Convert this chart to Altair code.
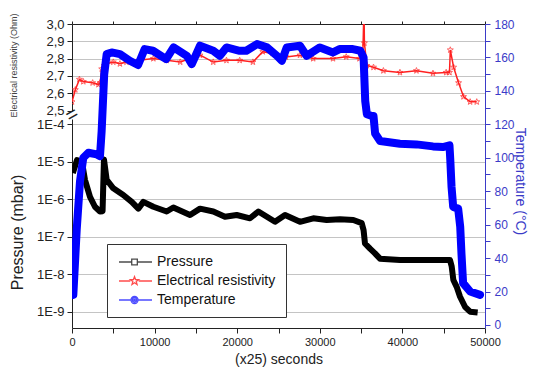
import math
import altair as alt
import pandas as pd

# ---------------- data ----------------
t_temp = [0, 160, 360, 570, 970, 1370, 1980, 3000, 3390, 3590, 3900, 4200, 4800, 5800, 7000,
          8000, 8800, 9800, 11400, 12300, 13900, 14500, 15500, 17100, 17900, 18700, 20300,
          21100, 22400, 23600, 24800, 25400, 26000, 27600, 28400, 30000, 31600, 32400, 34000,
          34900, 35300, 35500, 35700, 36300, 36500, 36700, 37300, 39700, 41700, 43700, 44900,
          45700, 45800, 45950, 46150, 46750, 47000, 47150, 47350, 48200, 49400]
temp = [18, 18, 37, 57, 86, 100, 103, 102, 101, 116, 150, 162, 163, 162, 158,
        155.5, 165, 164, 159, 166, 161, 156, 167, 164, 161, 166, 164,
        164, 168, 166, 161, 158, 166, 167, 161, 166, 163, 165, 165,
        164, 160, 134, 126, 125, 125, 114.5, 110, 108.4, 108, 106.8, 106.4,
        107.4, 98.5, 82.5, 70.6, 69.6, 58.7, 42.8, 25, 20, 18]

t_pres = [100, 400, 600, 1200, 1570, 2180, 2780, 3390, 3700, 3870, 4200, 5000, 6210, 7230,
          8030, 8640, 9850, 11460, 12270, 14290, 15500, 17110, 18520, 19940, 21550, 22560,
          24580, 25790, 27600, 29210, 30830, 32450, 34060, 35070, 35300, 35470, 36080, 36680,
          37290, 39710, 45760, 45970, 46170, 46570, 46980, 47580, 48190, 49110]
pres = [5e-6, 8e-6, 1.1e-5, 1.0e-5, 3.3e-6, 1.15e-6, 6.3e-7, 4.7e-7, 4.8e-7, 1.15e-5, 3.3e-6,
        1.95e-6, 1.3e-6, 8.5e-7, 5.6e-7, 8.5e-7, 6.3e-7, 4.7e-7, 6e-7, 3.8e-7, 5.6e-7, 4.7e-7,
        3.4e-7, 3.8e-7, 3.1e-7, 4.7e-7, 2.5e-7, 3.8e-7, 2.5e-7, 3.1e-7, 2.8e-7, 2.9e-7, 2.8e-7,
        2.3e-7, 1.5e-7, 6.6e-8, 4.8e-8, 3.6e-8, 2.6e-8, 2.4e-8, 2.4e-8, 1.6e-8, 7e-9, 4.6e-9,
        2.5e-9, 1.35e-9, 1.0e-9, 0.95e-9]

t_res = [0, 400, 900, 1370, 2500, 3200, 3400, 3600, 3900, 4200, 5000, 5800, 6600, 7000, 8100,
         9850, 11460, 13100, 15500, 17100, 18700, 20300, 21900, 23100, 24300, 25900, 27600,
         29200, 31600, 33200, 34800, 35200, 35350, 35400, 35700, 36500, 37700, 39700, 41700,
         43700, 45300, 45700, 45800, 46200, 46800, 47400, 48200, 49000]
res = [2.55, 2.62, 2.68, 2.667, 2.66, 2.65, 2.66, 2.74, 2.76, 2.77, 2.78, 2.77, 2.78, 2.79, 2.79,
       2.80, 2.79, 2.78, 2.82, 2.78, 2.79, 2.79, 2.78, 2.84, 2.83, 2.81, 2.82,
       2.80, 2.80, 2.81, 2.80, 2.80, 3.10, 2.89, 2.76, 2.75, 2.73, 2.72, 2.73,
       2.715, 2.72, 2.72, 2.85, 2.75, 2.66, 2.58, 2.55, 2.55]

series = ["Pressure", "Electrical resistivity", "Temperature"]
series_colors = ["#000000", "#ff0000", "#0000ff"]

x_ticks = list(range(0, 50001, 5000))
res_ticks = [2.5, 2.6, 2.7, 2.8, 2.9, 3.0]
pres_ticks = [1e-9, 1e-8, 1e-7, 1e-6, 1e-5, 1e-4]
temp_ticks = list(range(0, 181, 10))

# ---------------- styling ----------------
FONT = "Liberation Sans"
W, H = 413, 304
AX = "#222222"
BLUE_AX = "#3b3bc8"

df_temp = pd.DataFrame({"t": t_temp, "v": temp})
df_pres = pd.DataFrame({"t": t_pres, "v": pres})
df_res = pd.DataFrame({"t": t_res, "v": res})
df_leg = pd.DataFrame({"t": [0, 0, 0], "s": series})


def xs(**kw):
    return alt.X("t:Q", scale=alt.Scale(domain=[0, 50000], nice=False, zero=False), **kw)


# legend symbol paths (unit = half of sqrt(symbol size))
cx = 1.36


def star_path(c, ro, ri):
    pts = []
    for k in range(10):
        r = ro if k % 2 == 0 else ri
        a = -math.pi / 2 + k * math.pi / 5
        pts.append("%.3f,%.3f" % (c + r * math.cos(a), r * math.sin(a)))
    return "M" + "L".join(pts) + "Z"


def ring(c, r):
    return "M%.3f,0A%.3f,%.3f 0 1,0 %.3f,0A%.3f,%.3f 0 1,0 %.3f,0" % (c - r, r, r, c + r, r, r, c - r)


p_sq = "M-0.86,0H0.96M1.76,0H3.86M0.96,-0.4H1.76V0.4H0.96Z"
p_star = "M-0.86,0H0.76M1.96,0H3.86" + star_path(cx, 0.62, 0.26)
p_circ = "M-0.86,0H0.86M1.86,0H3.86" + ring(cx, 0.5) + ring(cx, 0.3) + ring(cx, 0.1)

# ---------------- layers ----------------
pres_layer = alt.Chart(df_pres).mark_line(color="#000000", strokeWidth=6, strokeJoin="round",
                                           clip=True).encode(
    x=xs(axis=alt.Axis(orient="bottom", values=x_ticks,
                       labelExpr="datum.value % 10000 == 0 ? format(datum.value, 'd') : ''",
                       title="(x25) seconds", titleFontSize=14, titleFontWeight="normal",
                       titlePadding=5, labelFontSize=11, tickSize=5, labelPadding=3,
                       labelFlush=False,
                       grid=False, domainColor=AX, tickColor=AX, labelColor=AX, titleColor=AX)),
    y=alt.Y("v:Q",
            scale=alt.Scale(type="log", domain=[3.67e-10, 1.38e-4], range=[304, 95], nice=False),
            axis=alt.Axis(orient="left", values=pres_ticks,
                          labelExpr="'1E' + round(log(datum.value) / LN10)",
                          title="Pressure (mbar)", titleFontSize=16, titleFontWeight="normal",
                          titleX=-47, titleY=208, titleAngle=270, titleBaseline="bottom",
                          labelFontSize=13, tickSize=5, labelPadding=3, labelFlush=False,
                          grid=True, gridColor="#c4c4c4", gridWidth=1,
                          domainColor=AX, tickColor=AX, labelColor=AX, titleColor=AX)),
)

res_line = alt.Chart(df_res).mark_line(color="#ff2020", strokeWidth=1.5, clip=True).encode(
    x=xs(axis=None),
    y=alt.Y("v:Q", scale=alt.Scale(domain=[2.5, 3.0], range=[86.5, 0], nice=False, zero=False),
            axis=alt.Axis(orient="left", values=res_ticks,
                          labelExpr="replace(format(datum.value, '.1f'), '.', ',')",
                          title="Electrical resistivity (Ohm)", titleFontSize=9,
                          titleFontWeight="normal", titleX=-54, titleY=41, titleAngle=270,
                          titleBaseline="bottom",
                          labelFontSize=13, tickSize=5, labelPadding=3, labelFlush=False,
                          grid=True, gridColor="#c4c4c4", gridWidth=1,
                          gridOpacity={"condition": {"test": "datum.value < 2.55 || datum.value > 2.95",
                                                     "value": 0}, "value": 1},
                          domainColor=AX, tickColor=AX, labelColor=AX, titleColor="#444444")),
)
res_pts = alt.Chart(df_res).mark_point(color="#ff2020", filled=False, size=40,
                                       strokeWidth=1, clip=True).encode(
    x=xs(axis=None),
    y=alt.Y("v:Q"),
    shape=alt.value(star_path(0, 1.0, 0.42)),
)
res_layer = alt.layer(res_line, res_pts)

temp_layer = alt.Chart(df_temp).mark_line(color="#0000ff", strokeWidth=8, strokeJoin="round",
                                           strokeCap="round", clip=True).encode(
    x=xs(axis=alt.Axis(orient="top", values=x_ticks, labels=False, title=None, tickSize=3,
                       grid=False, domainColor=AX, tickColor=AX)),
    y=alt.Y("v:Q", scale=alt.Scale(domain=[-1.8, 180], range=[304, 0], nice=False, zero=False),
            axis=alt.Axis(orient="right", values=temp_ticks,
                          labelExpr="datum.value % 20 == 0 ? '' + datum.value : ''",
                          title="Temperature (°C)", titleFontSize=14, titleFontWeight="normal",
                          titleX=27, titleY=157, titleAngle=90, titleBaseline="bottom",
                          labelFontSize=12, tickSize=5, labelPadding=4, grid=False,
                          labelFlush=False,
                          domainColor=BLUE_AX, tickColor=BLUE_AX, labelColor=BLUE_AX,
                          titleColor=BLUE_AX)),
)

legend_layer = alt.Chart(df_leg).mark_point(filled=False, size=196).encode(
    x=xs(axis=None),
    color=alt.Color("s:N", scale=alt.Scale(domain=series, range=series_colors),
                    legend=alt.Legend(title=None, orient="none", legendX=35, legendY=220,
                                      labelFont=FONT, labelFontSize=14, labelColor="#111111",
                                      symbolSize=196, symbolStrokeWidth=1.3, labelOffset=24,
                                      padding=10, rowPadding=4, strokeColor="#333333",
                                      fillColor="#ffffff", labelLimit=300)),
    shape=alt.Shape("s:N", scale=alt.Scale(domain=series, range=[p_sq, p_star, p_circ]),
                    legend=None),
).transform_filter("false")

brk = alt.Chart(pd.DataFrame({"k": ["="]})).mark_text(
    fontSize=20, angle=330, color=AX, font=FONT).encode(
    text="k:N", x=alt.value(0), y=alt.value(91))

chart = alt.layer(pres_layer, res_layer, temp_layer, legend_layer, brk).resolve_scale(
    x="independent", y="independent"
).properties(
    width=W, height=H,
    padding={"left": 64, "top": 16, "right": 43, "bottom": 40},
    autosize=alt.AutoSizeParams(type="none"),
).configure_view(stroke=None).configure_axis(
    labelFont=FONT, titleFont=FONT
).configure_text(font=FONT)

chart.save("out.html", embed_options={"renderer": "svg", "actions": False})
